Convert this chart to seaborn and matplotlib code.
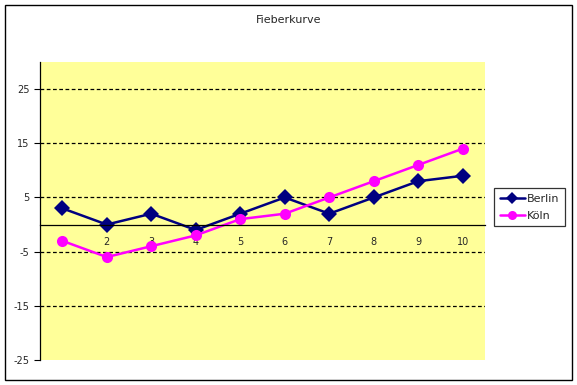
import matplotlib
matplotlib.use("Agg")
import matplotlib.pyplot as plt
import seaborn as sns
import pandas as pd
from matplotlib.patches import Rectangle

days = [1, 2, 3, 4, 5, 6, 7, 8, 9, 10]
berlin = [3, 0, 2, -1, 2, 5, 2, 5, 8, 9]
koeln = [-3, -6, -4, -2, 1, 2, 5, 8, 11, 14]
series_names = ["Berlin", "Köln"]
y_ticks = [-25, -15, -5, 5, 15, 25]
title = "Fieberkurve"

df = pd.DataFrame({"Tag": days * 2,
                   "Wert": berlin + koeln,
                   "Stadt": [series_names[0]] * len(days) + [series_names[1]] * len(days)})

sns.set_style("white")
plt.rcParams['font.family'] = ['DejaVu Sans']

fig = plt.figure(figsize=(5.77, 3.85), dpi=100)
ax = fig.add_axes([40/577, 1 - 360/385, 445/577, (360-62)/385])
ax.set_facecolor("#FFFF99")

palette = {"Berlin": "#000080", "Köln": "#FF00FF"}
markers = {"Berlin": "D", "Köln": "o"}
sns.lineplot(data=df, x="Tag", y="Wert", hue="Stadt", style="Stadt",
             palette=palette, markers=markers, dashes=False, markersize=8,
             linewidth=1.8, markeredgewidth=0, ax=ax, legend=True)

ax.set_xlim(0.5, 10.5)
ax.set_ylim(-25, 30)
ax.set_yticks(y_ticks)
ax.set_yticklabels([str(t) for t in y_ticks])
for t in y_ticks[1:]:
    ax.axhline(t, color="black", linestyle=(0, (3, 2)), linewidth=0.9, zorder=0.5)

ax.set_xticks(days)
ax.set_xticklabels([str(d) for d in days])
ax.set_xticks([d + 0.5 for d in days[:-1]], minor=True)
ax.tick_params(axis="x", which="major", length=0, pad=9, labelsize=7)
ax.tick_params(axis="x", which="minor", length=4, direction="out", color="black", width=0.8)
ax.tick_params(axis="y", length=4, direction="out", color="black", width=0.8, left=True, labelsize=7)

ax.spines["bottom"].set_position(("data", 0))
ax.spines["bottom"].set_color("black")
ax.spines["bottom"].set_linewidth(0.9)
ax.spines["left"].set_color("black")
ax.spines["left"].set_linewidth(0.9)
ax.spines["top"].set_visible(False)
ax.spines["right"].set_visible(False)
ax.set_xlabel("")
ax.set_ylabel("")

h, l = ax.get_legend_handles_labels()
for hh in h:
    hh.set_markersize(6.5)
ax.legend(h, l, loc="upper left", bbox_to_anchor=(494/577, 1 - 188/385),
          bbox_transform=fig.transFigure, frameon=True, fancybox=False,
          edgecolor="black", fontsize=8, handlelength=2.3, borderpad=0.5,
          labelspacing=0.65, handletextpad=0.15, borderaxespad=0)
ax.get_legend().get_frame().set_linewidth(0.9)

fig.text(289/577, 1 - 20/385, title, ha="center", va="center", fontsize=8)
fig.patches.append(Rectangle((5/577, 5/385), 567/577, 375/385, transform=fig.transFigure,
                             fill=False, edgecolor="black", linewidth=1, figure=fig))

fig.savefig("out.png", dpi=100)
